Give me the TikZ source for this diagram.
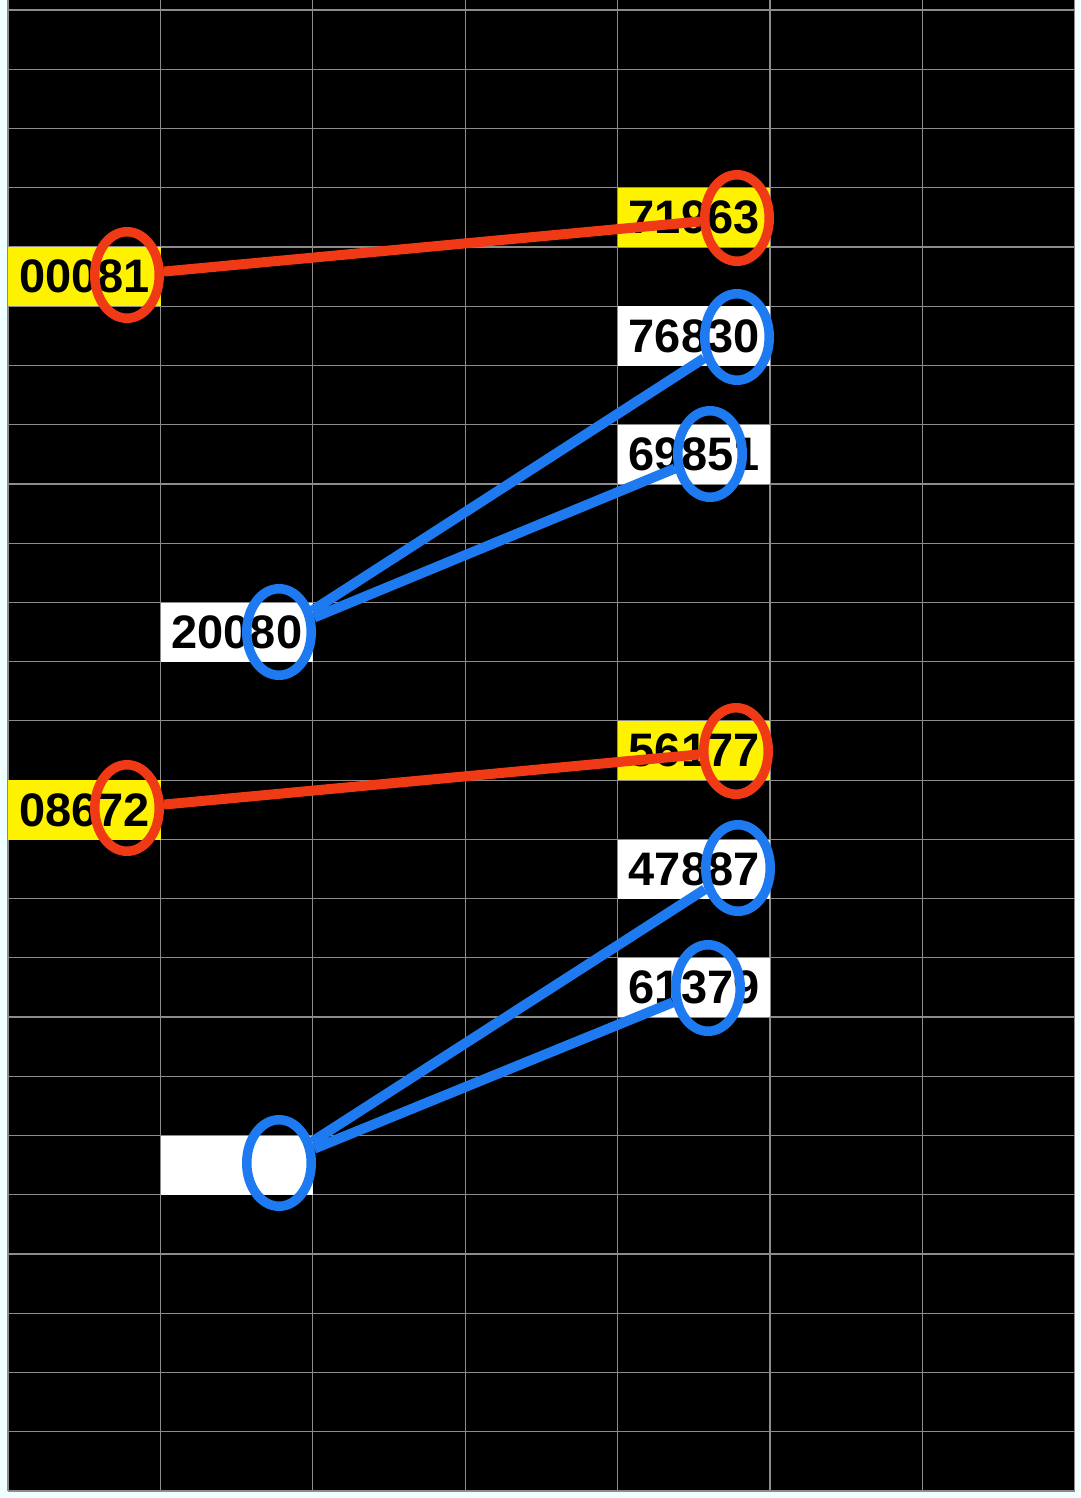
\documentclass[tikz,border=0pt]{standalone}
\usepackage{fontspec}
\setmainfont{Liberation Sans}
\usetikzlibrary{shapes.geometric}
\definecolor{bgout}{RGB}{240,255,255}
\definecolor{gridc}{RGB}{140,140,140}
\definecolor{hlred}{RGB}{240,58,22}
\definecolor{hlblue}{RGB}{30,122,240}
\begin{document}
\begin{tikzpicture}[x=1pt,y=-1pt,
  gridline/.style={draw=gridc, line width=1.2pt},
  cellbox/.style={rectangle, inner xsep=11pt, inner ysep=0pt, minimum width=152.4pt,
    minimum height=59.24pt, text width=130.4pt, align=left, anchor=north west,
    font=\fontsize{47}{47}\selectfont\bfseries, text=black},
  ycell/.style={cellbox, fill=yellow},
  wcell/.style={cellbox, fill=white},
  ring/.style={ellipse, draw, line width=9.5pt, minimum width=64.5pt, minimum height=86.5pt, inner sep=0pt},
  redring/.style={ring, draw=hlred},
  bluering/.style={ring, draw=hlblue},
  redlink/.style={draw=hlred, line width=10pt},
  bluelink/.style={draw=hlblue, line width=10pt}
]
\useasboundingbox (0,0) rectangle (1080,1498);
\fill[bgout] (0,0) rectangle (1080,1498);
\fill[black] (8,0) rectangle (1075,1491);
% grid
\foreach \i in {0,...,7} \draw[gridline] ({8+152.4*\i},0) -- ({8+152.4*\i},1491);
\foreach \j in {0,...,25} \draw[gridline] (8,{10+59.24*\j}) -- (1075,{10+59.24*\j});
% cells
\node[ycell] (c71963) at ({8+152.4*4},{10+59.24*3}) {71963};
\node[ycell] (c00081) at ({8},{10+59.24*4}) {00081};
\node[wcell] (c76830) at ({8+152.4*4},{10+59.24*5}) {76830};
\node[wcell] (c69851) at ({8+152.4*4},{10+59.24*7}) {69851};
\node[wcell] (c20080) at ({8+152.4*1},{10+59.24*10}) {20080};
\node[ycell] (c56177) at ({8+152.4*4},{10+59.24*12}) {56177};
\node[ycell] (c08672) at ({8},{10+59.24*13}) {08672};
\node[wcell] (c47887) at ({8+152.4*4},{10+59.24*14}) {47887};
\node[wcell] (c61379) at ({8+152.4*4},{10+59.24*16}) {61379};
\node[wcell] (cblank) at ({8+152.4*1},{10+59.24*19}) {};
% rings
\node[redring] (r1) at (127,275) {};
\node[redring] (r2) at (737,218) {};
\node[bluering] (b1) at (737,337) {};
\node[bluering] (b2) at (710,454) {};
\node[bluering] (b3) at (279,632) {};
\node[redring] (r3) at (736,751) {};
\node[redring] (r4) at (127,808) {};
\node[bluering] (b4) at (738,868) {};
\node[bluering] (b5) at (708,988) {};
\node[bluering] (b6) at (279,1163) {};
% links
\draw[redlink] (r1) -- (r2);
\draw[bluelink] (b3) -- (b1);
\draw[bluelink] (b3) -- (b2);
\draw[redlink] (r4) -- (r3);
\draw[bluelink] (b6) -- (b4);
\draw[bluelink] (b6) -- (b5);
\end{tikzpicture}
\end{document}
